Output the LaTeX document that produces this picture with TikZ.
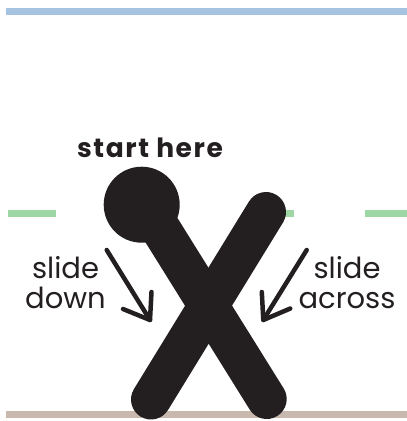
\documentclass[tikz,border=0pt]{standalone}
\usepackage{fontspec}
\setmainfont{Poppins}
\newfontfamily\topfont[LetterSpace=6]{Poppins}
\definecolor{inkblack}{HTML}{231F20}
\definecolor{lineblue}{HTML}{A6C3E2}
\definecolor{linegreen}{HTML}{9FD6A6}
\definecolor{linebrown}{HTML}{C9B8AD}
\tikzset{
  guide/.style={line width=7pt, line cap=butt},
  xstroke/.style={line width=40pt, line cap=round, draw=inkblack},
  arrowline/.style={line width=4.5pt, line cap=round, line join=round, draw=inkblack},
  sidelabel/.style={font=\fontsize{29}{30}\selectfont, text=inkblack, align=center, inner sep=0pt},
  toplabel/.style={font=\topfont\fontsize{26.5}{30}\selectfont\bfseries, text=inkblack, inner sep=0pt, anchor=base}
}
\begin{document}
\begin{tikzpicture}[x=1pt,y=-1pt]
  \useasboundingbox (0,0) rectangle (407,421);
  % guide lines
  \coordinate (b1) at (6,11);   \coordinate (b2) at (407,11);
  \coordinate (g1) at (8,213);  \coordinate (g2) at (407,213);
  \coordinate (r1) at (6,414.5); \coordinate (r2) at (407,414.5);
  \draw[guide, lineblue] (b1) -- (b2);
  \draw[guide, linegreen, dash pattern=on 48pt off 71pt] (g1) -- (g2);
  \draw[guide, linebrown] (r1) -- (r2);
  % the X
  \coordinate (s1a) at (145.6,204.7);
  \coordinate (s1b) at (266.7,399);
  \coordinate (s2a) at (266,212);
  \coordinate (s2b) at (151,399.5);
  \draw[xstroke] (s1a) -- (s1b);
  \draw[xstroke] (s2a) -- (s2b);
  \fill[inkblack] (141.7,204.7) circle[radius=38pt];
  % labels
  \node[toplabel] (start) at (150,157) {start here};
  \node[sidelabel, anchor=north] (down) at (65.5,256) {slide\\down};
  \node[sidelabel, anchor=north] (across) at (347,256) {slide\\across};
  % arrows
  \coordinate (la) at (106.7,250); \coordinate (lt) at (150,320);
  \coordinate (lh1) at (151.5,292); \coordinate (lh2) at (123,309);
  \draw[arrowline] (la) -- (lt);
  \draw[arrowline] (lh1) -- (lt) -- (lh2);
  \coordinate (ra) at (306.7,250); \coordinate (rt) at (263.3,320);
  \coordinate (rh1) at (261.8,292); \coordinate (rh2) at (290.3,308.5);
  \draw[arrowline] (ra) -- (rt);
  \draw[arrowline] (rh1) -- (rt) -- (rh2);
\end{tikzpicture}
\end{document}
